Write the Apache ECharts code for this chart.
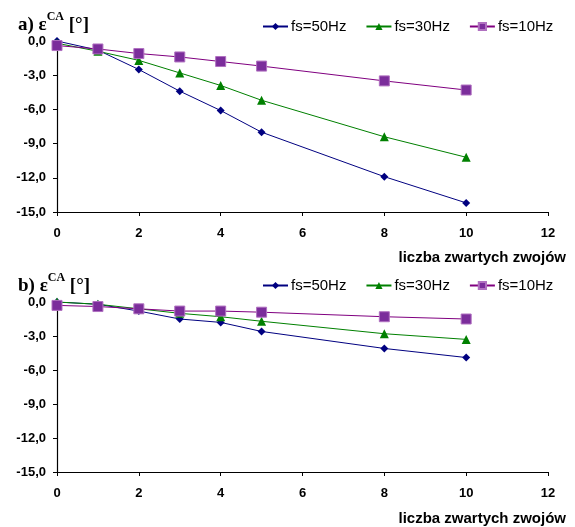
<!DOCTYPE html>
<html><head><meta charset="utf-8">
<script src="https://cdn.jsdelivr.net/npm/echarts@6/dist/echarts.min.js"></script>
<style>html,body{margin:0;padding:0;background:#fff}#c{width:575px;height:527px}</style>
</head><body><div id="c"></div>
<script>
var xValues = [0, 1, 2, 3, 4, 5, 8, 10];
var seriesNames = ['fs=50Hz', 'fs=30Hz', 'fs=10Hz'];
// chart a)
var a50 = [0.0, -0.8, -2.5, -4.4, -6.1, -8.0, -11.9, -14.2];
var a30 = [-0.2, -0.9, -1.7, -2.8, -3.9, -5.2, -8.4, -10.2];
var a10 = [-0.4, -0.7, -1.1, -1.4, -1.8, -2.2, -3.5, -4.3];
// chart b)
var b50 = [0.0, -0.2, -0.8, -1.5, -1.8, -2.6, -4.1, -4.9];
var b30 = [0.0, -0.2, -0.6, -1.0, -1.3, -1.7, -2.8, -3.3];
var b10 = [-0.3, -0.4, -0.6, -0.8, -0.8, -0.9, -1.3, -1.5];
var xTickLabels = ['0', '2', '4', '6', '8', '10', '12'];
var yTickLabels = ['-15,0', '-12,0', '-9,0', '-6,0', '-3,0', '0,0'];

var colors = ['#000080', '#008000', '#800080'];
var symbols = ['diamond', 'triangle', 'rect'];
var symSizes = [8, 9, 10];
var symFill = ['#000080', '#008000', '#7B2D9B'];
var symBorder = ['#000080', '#008000', '#B070C0'];

function pairs(vals) { return xValues.map(function (x, i) { return [x, vals[i]]; }); }

var chart = echarts.init(document.getElementById('c'));
var grids = [
  {left: 57, top: 41, width: 491, height: 171},
  {left: 57, top: 302, width: 491, height: 170}
];
var labFont = 'Liberation Sans Narrow, Arial Narrow, Liberation Sans, Arial';
function xAxis(idx) {
  return {
    type: 'value', gridIndex: idx, min: 0, max: 12, interval: 2,
    axisLine: {show: true, onZero: false, lineStyle: {color: '#000', width: 1.2}},
    axisTick: {show: true, length: 4, lineStyle: {color: '#000'}},
    splitLine: {show: false},
    axisLabel: {margin: 15, color: '#000', fontFamily: labFont, fontWeight: 'bold', fontSize: 13,
      formatter: function (v) { return xTickLabels[Math.round(v / 2)]; }}
  };
}
function yAxis(idx) {
  return {
    type: 'value', gridIndex: idx, min: -15, max: 0, interval: 3,
    axisLine: {show: true, lineStyle: {color: '#000', width: 1.2}},
    axisTick: {show: true, length: 4, lineStyle: {color: '#000'}},
    splitLine: {show: false},
    axisLabel: {margin: 11, color: '#000', fontFamily: labFont, fontWeight: 'bold', fontSize: 13,
      formatter: function (v) { return yTickLabels[Math.round((v + 15) / 3)]; }}
  };
}
var allData = [[a50, a30, a10], [b50, b30, b10]];
var series = [];
allData.forEach(function (set, g) {
  set.forEach(function (vals, k) {
    series.push({
      name: seriesNames[k], type: 'line', xAxisIndex: g, yAxisIndex: g,
      data: pairs(vals), symbol: symbols[k], symbolSize: symSizes[k],
      lineStyle: {color: colors[k], width: 1},
      itemStyle: {color: symFill[k], borderColor: symBorder[k], borderWidth: k === 2 ? 1 : 0},
      animation: false
    });
  });
});
function legend(top) {
  return {
    top: top, left: 262, padding: 0, itemWidth: 25, itemHeight: 9, itemGap: 19,
    data: seriesNames,
    textStyle: {fontFamily: 'Liberation Sans, Arial', fontSize: 15, color: '#000', padding: [0, 0, 0, -2]}
  };
}
function titleText(letter, top) {
  return {
    text: '{m|' + letter + ') ε}{s|CA}{m| [°]}', left: 13, top: top,
    textStyle: {rich: {
      m: {fontFamily: 'Liberation Serif, Times New Roman', fontWeight: 'bold', fontSize: 19, color: '#000', verticalAlign: 'bottom', lineHeight: 24},
      s: {fontFamily: 'Liberation Serif, Times New Roman', fontWeight: 'bold', fontSize: 12, color: '#000', verticalAlign: 'top', lineHeight: 24, padding: [0, 0, 10, 0]}
    }}
  };
}
function axisName(top) {
  return {
    text: 'liczba zwartych zwojów', right: 4, top: top,
    textStyle: {fontFamily: labFont, fontWeight: 'bold', fontSize: 15, color: '#000'}
  };
}
chart.setOption({
  animation: false,
  backgroundColor: '#fff',
  title: [titleText('a', 6), titleText('b', 267), axisName(245), axisName(506)],
  legend: [legend(19), legend(278)],
  grid: grids,
  xAxis: [xAxis(0), xAxis(1)],
  yAxis: [yAxis(0), yAxis(1)],
  series: series
});
</script></body></html>
